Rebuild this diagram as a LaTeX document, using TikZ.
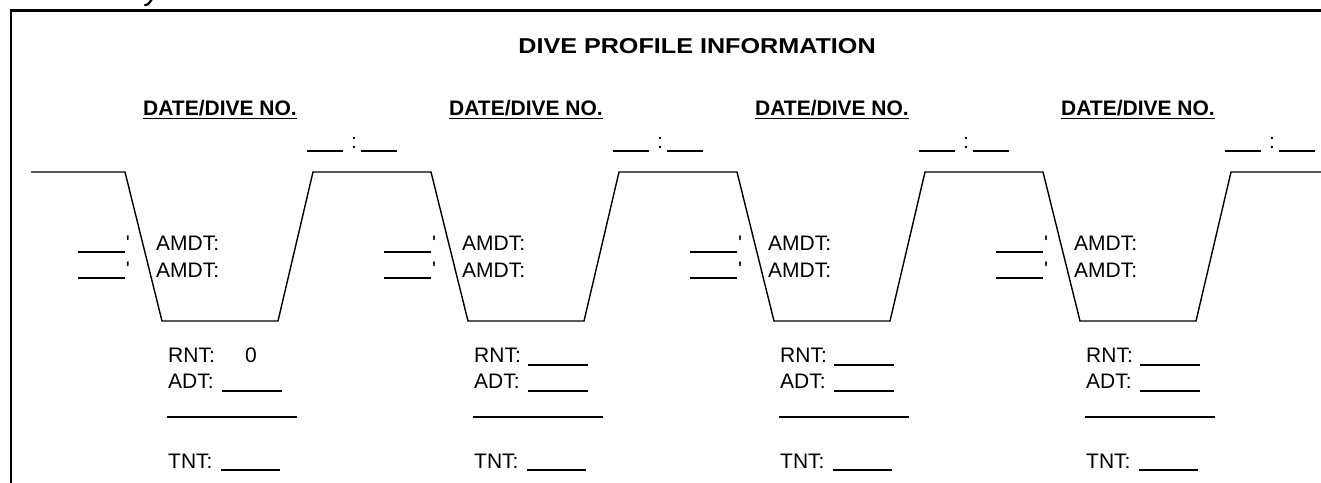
\documentclass[tikz,border=0pt]{standalone}
\usepackage{fontspec}
\setmainfont{Liberation Sans}
\usetikzlibrary{positioning}

\tikzset{
    formtext/.style={inner sep=0pt, anchor=base west, font=\fontsize{21}{24}\selectfont},
    boldtext/.style={inner sep=0pt, anchor=base, font=\fontsize{21}{24}\selectfont\bfseries},
    blank/.style={line width=1.7pt},
    profile/.style={line width=1.4pt, line join=miter},
}

\begin{document}
\begin{tikzpicture}[x=1pt, y=-1pt]
        \useasboundingbox (0,0) rectangle (1321,482);
        \draw[line width=2.4pt] (11,490) -- (11,10.5) -- (1330,10.5);
        \draw[line width=2.2pt, line cap=round] (152,-1) -- (149,3) .. controls (148,4.5) .. (145,5);
        \node[boldtext, xscale=1.17, font=\fontsize{21.5}{24}\selectfont\bfseries] (title) at (697,53) {DIVE PROFILE INFORMATION};
        \draw[profile] (31,172)
            foreach \x in {125,431,737,1043} {
                -- (\x,172) -- (\x+37,321) -- (\x+153,321) -- (\x+188,172)
            } -- (1321,172);
        \foreach \x [count=\i] in {125,431,737,1043} {
            \node[boldtext] (date\i) at (\x+95,115) {DATE/DIVE NO.};
            \draw[blank] ([yshift=-3.5pt]date\i.base west) -- ([yshift=-3.5pt]date\i.base east);
            \node[formtext, anchor=base] (colon\i) at (\x+229,148) {:};
            \draw[blank] (\x+182,151) -- (\x+218,151) (\x+236,151) -- (\x+272,151);
            \draw[blank] (\x-47,252) -- (\x,252) (\x-47,278) -- (\x,278);
            \node[formtext, anchor=base] (tickA\i) at (\x+3,250) {\textquotesingle};
            \node[formtext, anchor=base] (tickB\i) at (\x+3,276) {\textquotesingle};
            \node[formtext] (amdtA\i) at (\x+31,250) {AMDT:};
            \node[formtext] (amdtB\i) at (\x+31,277) {AMDT:};
            \node[formtext] (rnt\i) at (\x+43,362) {RNT:};
            \node[formtext] (adt\i) at (\x+43,388) {ADT:};
            \node[formtext] (tnt\i) at (\x+43,468) {TNT:};
            \ifnum\i=1
                \node[formtext, anchor=base] (zero\i) at (\x+126,362) {0};
            \else
                \draw[blank] (\x+97,365) -- (\x+157,365);
            \fi
            \draw[blank] (\x+97,391) -- (\x+157,391);
            \draw[blank] (\x+42,417) -- (\x+172,417);
            \draw[blank] (\x+96,470) -- (\x+155,470);
        }
\end{tikzpicture}
\end{document}
